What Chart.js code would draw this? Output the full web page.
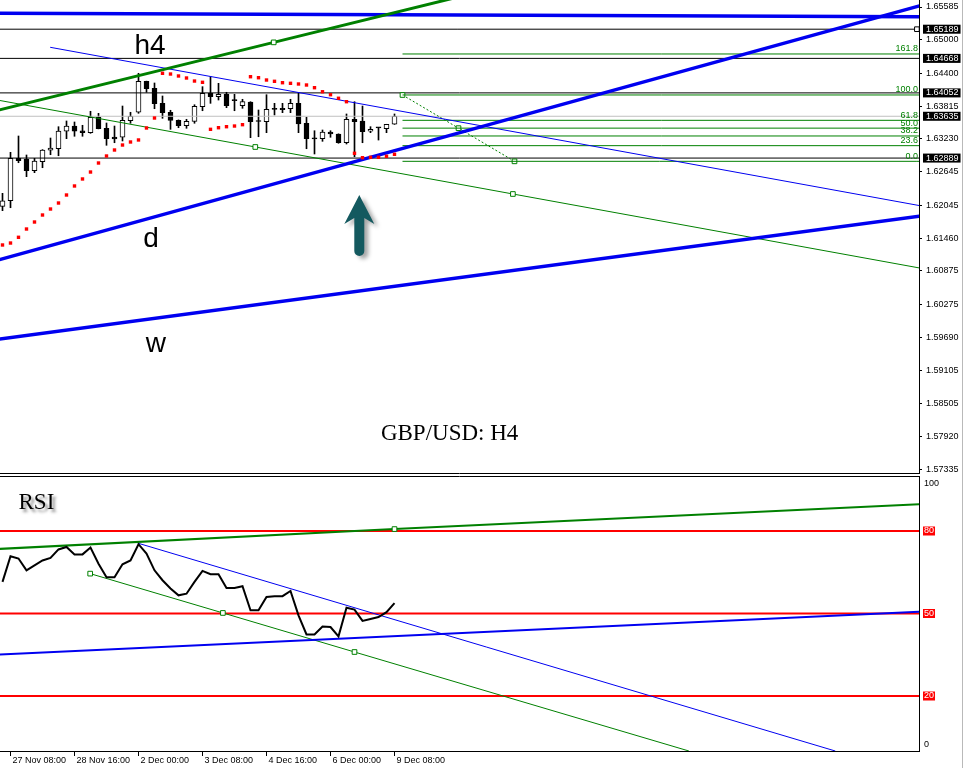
<!DOCTYPE html>
<html>
<head>
<meta charset="utf-8">
<title>GBP/USD H4</title>
<script src="https://cdn.jsdelivr.net/npm/chart.js@4.4.0/dist/chart.umd.min.js"></script>
<style>
  html, body { margin: 0; padding: 0; background: #fff; }
  #wrap { position: relative; width: 965px; height: 768px; overflow: hidden; }
  #priceChart { position: absolute; left: 0; top: 0; }
  #rsiChart { position: absolute; left: 0; top: 476px; }
  #edge { position: absolute; left: 962px; top: 0; width: 1px; height: 768px; background: #b9b9b9; }
</style>
</head>
<body>
<div id="wrap">
  <canvas id="priceChart" width="965" height="474"></canvas>
  <canvas id="rsiChart" width="965" height="292"></canvas>
  <div id="edge"></div>
</div>
<script>
/* ---------- datos: velas H4, índice 0 = 27 Nov 04:00 ---------- */
const opens = [1.62028, 1.62128, 1.62885, 1.62867, 1.62664, 1.62824, 1.63028, 1.63056, 1.63367, 1.63461,
  1.63377, 1.63342, 1.63617, 1.63420, 1.63265, 1.63260, 1.63556, 1.63706, 1.64259, 1.64134,
  1.63866, 1.63706, 1.63563, 1.63467, 1.63545, 1.63806, 1.64045, 1.63984, 1.64027, 1.63913,
  1.63824, 1.63890, 1.63545, 1.63538, 1.63759, 1.63777, 1.63770, 1.63866, 1.63510, 1.63235,
  1.63235, 1.63354, 1.63319, 1.63163, 1.63581, 1.63551, 1.63367, 1.63431, 1.63413, 1.63492];
const highs = [1.62260, 1.62992, 1.63283, 1.62944, 1.62885, 1.63040, 1.63247, 1.63449, 1.63551, 1.63533,
  1.63474, 1.63724, 1.63688, 1.63515, 1.63461, 1.63818, 1.63706, 1.64402, 1.64262, 1.64229,
  1.63997, 1.63742, 1.63570, 1.63581, 1.63841, 1.64163, 1.64341, 1.64223, 1.64063, 1.64027,
  1.63938, 1.63895, 1.63747, 1.64020, 1.63866, 1.63866, 1.63938, 1.64045, 1.63617, 1.63377,
  1.63390, 1.63377, 1.63322, 1.63676, 1.63895, 1.63818, 1.63449, 1.63435, 1.63492, 1.63676];
const lows = [1.61950, 1.62003, 1.62806, 1.62557, 1.62628, 1.62717, 1.62949, 1.62931, 1.63235, 1.63278,
  1.63278, 1.63331, 1.63410, 1.63117, 1.63163, 1.63194, 1.63510, 1.63688, 1.64063, 1.63770,
  1.63599, 1.63402, 1.63431, 1.63420, 1.63510, 1.63734, 1.63866, 1.63925, 1.63788, 1.63734,
  1.63777, 1.63253, 1.63270, 1.63342, 1.63658, 1.63699, 1.63699, 1.63342, 1.63056, 1.62962,
  1.63188, 1.63260, 1.63153, 1.63140, 1.62913, 1.63163, 1.63342, 1.63211, 1.63342, 1.63490];
const closes = [1.62128, 1.62885, 1.62842, 1.62664, 1.62837, 1.63033, 1.63069, 1.63372, 1.63461, 1.63367,
  1.63342, 1.63617, 1.63413, 1.63235, 1.63229, 1.63563, 1.63634, 1.64259, 1.64127, 1.63859,
  1.63699, 1.63563, 1.63467, 1.63545, 1.63813, 1.64045, 1.63984, 1.64027, 1.63824, 1.63913,
  1.63895, 1.63538, 1.63542, 1.63759, 1.63757, 1.63752, 1.63866, 1.63497, 1.63235, 1.63232,
  1.63354, 1.63319, 1.63163, 1.63581, 1.63538, 1.63360, 1.63402, 1.63428, 1.63492, 1.63635];
// Parabolic SAR
const sar = [1.61338, 1.61373, 1.61475, 1.61623, 1.61748, 1.61873, 1.61980, 1.62087, 1.62230, 1.62391,
  1.62516, 1.62640, 1.62801, 1.62926, 1.63033, 1.63122, 1.63176, 1.63212, 1.63426, 1.63604,
  1.64402, 1.64389, 1.64354, 1.64318, 1.64264, 1.64241, 1.63402, 1.63431, 1.63449, 1.63461,
  1.63485, 1.64341, 1.64323, 1.64282, 1.64259, 1.64234, 1.64223, 1.64211, 1.64193, 1.64145,
  1.64073, 1.64020, 1.63956, 1.63895, 1.62974, 1.62896, 1.62903, 1.62903, 1.62921, 1.62956];
// RSI
const rsi = [61.5, 70.8, 70.0, 65.7, 67.5, 69.3, 70.2, 73.3, 74.2, 71.5,
  71.5, 74.0, 68.1, 63.2, 63.2, 67.9, 69.3, 75.2, 71.8, 65.7,
  62.1, 59.1, 56.6, 57.2, 61.5, 65.5, 64.3, 64.3, 59.3, 59.3,
  59.9, 51.2, 51.2, 56.0, 56.3, 56.3, 58.2, 49.3, 42.4, 42.4,
  45.3, 45.1, 41.7, 52.1, 51.4, 47.3, 48.0, 48.7, 50.5, 53.8];

const timeTickBars = [1, 9, 17, 25, 33, 41, 49];
const timeLabels = ['27 Nov 08:00', '28 Nov 16:00', '2 Dec 00:00', '3 Dec 08:00', '4 Dec 16:00', '6 Dec 00:00', '9 Dec 08:00'];
const priceTicks = [1.65585, 1.65000, 1.64400, 1.63815, 1.63230, 1.62645, 1.62045, 1.61460,
  1.60875, 1.60275, 1.59690, 1.59105, 1.58505, 1.57920, 1.57335];
const markedPrices = [1.65189, 1.64668, 1.64052, 1.62889];
const bidPrice = 1.63635;
const rsiTicks = [0, 20, 50, 80, 100];
const rsiLevels = [20, 50, 80];

// Fibonacci
const fibRatios = [0, 23.6, 38.2, 50, 61.8, 100, 161.8];
const fibHigh = 1.64015, fibLow = 1.62831;
const fibStartBar = 50, fibTrendBars = [50, 57, 64];

// líneas de tendencia [barra, precio]
const topBlueLine = [[-1, 1.65473], [116, 1.65411]];
const dailyLine = [[-1, 1.61052], [116, 1.65660]];
const weeklyLine = [[-1, 1.59648], [116, 1.61880]];
const channelTop = [[5.96, 1.64866], [116, 1.62005]];
const channelLow = [[-1, 1.63934], [31.6, 1.63087], [63.8, 1.62248], [116, 1.60892]];
const greenTrend = [[-1, 1.63728], [33.9, 1.64954], [57.2, 1.65772]];
// líneas en el RSI [barra, valor]
const rsiUpperLine = [[-1, 73.4], [49, 80.7], [116, 89.9]];
const rsiBaseLine = [[-1, 35.0], [116, 50.8]];
const rsiFallBlue = [[16.9, 75.6], [104.1, 0]];
const rsiFallGreen = [[10.96, 64.5], [27.55, 50.2], [44, 36.0], [85.8, 0]];

// textos del gráfico [texto, barra, valor]
const priceNotes = [['h4', 16.5, 1.64743], ['d', 17.6, 1.61302], ['w', 17.9, 1.59428]];
const titleNote = ['GBP/USD: H4', 47.3, 1.57858];
const rsiNote = ['RSI', 2.0, 87.9];
const arrowTip = [44.6, 1.62230], arrowTail = [44.6, 1.61141];

/* ---------- escalas y estilos ---------- */
const xMin = -0.3125, xMax = 114.5625;
const priceMin = 1.57251, priceMax = 1.65710;
const SANS = "'Liberation Sans', Arial, sans-serif";
const SERIF = "'Liberation Serif', 'Times New Roman', serif";
const BLUE = '#0000f0', GREEN = '#008000', RED = '#ff0000';
const tickFont = { family: SANS, size: 9, lineHeight: 1 };
const fibLevel = r => fibLow + (fibHigh - fibLow) * r / 100;

function lineSet(pts, color, width, marks, order, dash) {
  return {
    type: 'line',
    data: pts.map(p => ({ x: p[0], y: p[1] })),
    borderColor: color,
    borderWidth: width,
    borderDash: dash || [],
    pointStyle: 'rect',
    pointRadius: pts.map((_, i) => (marks || []).includes(i) ? 3.3 : 0),
    pointBackgroundColor: '#fff',
    pointBorderColor: color,
    pointBorderWidth: 1,
    fill: false,
    tension: 0,
    order: order
  };
}
const flat = (a, b, v) => [[a, v], [b, v]];

const bars = closes.map((_, i) => i);
const candleColor = bars.map(i => closes[i] > opens[i] ? '#fff' : '#000');

/* ---------- plugins ---------- */
const framePlugin = {
  id: 'frame',
  afterDraw(chart, args, opts) {
    const { ctx, chartArea } = chart;
    const y = opts.edge === 'bottom' ? chartArea.bottom - 0.5 : chartArea.top + 0.5;
    ctx.save();
    ctx.strokeStyle = '#000';
    ctx.lineWidth = 1;
    ctx.beginPath();
    ctx.moveTo(0, y);
    ctx.lineTo(chartArea.right, y);
    ctx.stroke();
    ctx.restore();
  }
};

const priceDecor = {
  id: 'priceDecor',
  afterDatasetsDraw(chart) {
    const { ctx, chartArea, scales: { x, y } } = chart;
    ctx.save();
    // etiquetas Fibonacci
    ctx.font = '9px ' + SANS;
    ctx.fillStyle = GREEN;
    ctx.textAlign = 'right';
    ctx.textBaseline = 'alphabetic';
    fibRatios.forEach(r => {
      ctx.fillText(r.toFixed(1), chartArea.right - 1, y.getPixelForValue(fibLevel(r)) - 2.5);
    });
    // textos h4 / d / w
    ctx.textAlign = 'left';
    ctx.fillStyle = '#000';
    ctx.font = '28px ' + SANS;
    priceNotes.forEach(([t, b, p]) => ctx.fillText(t, x.getPixelForValue(b), y.getPixelForValue(p)));
    ctx.font = '23px ' + SERIF;
    ctx.fillText(titleNote[0], x.getPixelForValue(titleNote[1]), y.getPixelForValue(titleNote[2]));
    // flecha
    const tx = x.getPixelForValue(arrowTip[0]);
    const ty = y.getPixelForValue(arrowTip[1]);
    const by = y.getPixelForValue(arrowTail[1]);
    ctx.shadowColor = 'rgba(0,0,0,0.35)';
    ctx.shadowBlur = 4;
    ctx.shadowOffsetX = 4;
    ctx.shadowOffsetY = 3;
    ctx.fillStyle = '#14595f';
    ctx.beginPath();
    ctx.moveTo(tx, ty);
    ctx.lineTo(tx + 15, ty + 29);
    ctx.lineTo(tx + 5, ty + 23);
    ctx.lineTo(tx + 5, by - 5);
    ctx.arc(tx, by - 5, 5, 0, Math.PI);
    ctx.lineTo(tx - 5, ty + 23);
    ctx.lineTo(tx - 15, ty + 29);
    ctx.closePath();
    ctx.fill();
    ctx.restore();
  }
};

const rsiDecor = {
  id: 'rsiDecor',
  afterDatasetsDraw(chart) {
    const { ctx, scales: { x, y } } = chart;
    ctx.save();
    ctx.font = '23px ' + SERIF;
    ctx.fillStyle = '#000';
    ctx.shadowColor = 'rgba(0,0,0,0.45)';
    ctx.shadowBlur = 3;
    ctx.shadowOffsetX = 3;
    ctx.shadowOffsetY = 3;
    ctx.fillText(rsiNote[0], x.getPixelForValue(rsiNote[1]), y.getPixelForValue(rsiNote[2]));
    ctx.restore();
  }
};

/* ---------- gráfico de precio ---------- */
const allPriceTicks = priceTicks.concat(markedPrices, [bidPrice]).sort((a, b) => a - b);
const isMarked = v => markedPrices.includes(v) || v === bidPrice;

const priceDatasets = [
  {
    type: 'bar', data: bars.map(i => ({ x: i, y: [lows[i], highs[i]] })),
    backgroundColor: '#000', borderWidth: 0, barThickness: 1, minBarLength: 1, grouped: false, order: 9
  },
  {
    type: 'bar', data: bars.map(i => ({ x: i, y: [opens[i], closes[i]] })),
    backgroundColor: candleColor, borderColor: '#000', borderWidth: 1, borderSkipped: false,
    barThickness: 5, minBarLength: 1, grouped: false, order: 8
  },
  lineSet(flat(-1, 116, bidPrice), '#c0c0c0', 1, [], 7),
  lineSet([[-1, markedPrices[0]], [114.3, markedPrices[0]], [116, markedPrices[0]]], '#000', 1, [1], 7),
  ...markedPrices.slice(1).map(v => lineSet(flat(-1, 116, v), '#000', 1, [], 7)),
  ...fibRatios.map(r => lineSet(
    r === 0 ? [[fibStartBar, fibLevel(r)], [114.3, fibLevel(r)], [116, fibLevel(r)]] : flat(fibStartBar, 116, fibLevel(r)),
    GREEN, 1, [], 6)),
  lineSet(fibTrendBars.map((b, i) => [b, fibLevel([100, 50, 0][i])]), GREEN, 1, [0, 1, 2], 6, [2, 2]),
  lineSet(channelLow, GREEN, 1, [1, 2], 4),
  lineSet(channelTop, BLUE, 1, [], 4),
  lineSet(greenTrend, GREEN, 3, [1], 3),
  lineSet(topBlueLine, BLUE, 3.5, [], 3),
  lineSet(dailyLine, BLUE, 3.5, [], 3),
  lineSet(weeklyLine, BLUE, 3.5, [], 3),
  {
    type: 'line', data: bars.map(i => ({ x: i, y: sar[i] })), showLine: false,
    pointStyle: 'rect', pointRadius: 2.4, pointBackgroundColor: RED, pointBorderWidth: 0, order: 0
  }
];
// marca del nivel 0.0 en negro
priceDatasets.forEach(d => { if (d.data.length === 3 && d.data[1].x === 114.3) d.pointBorderColor = '#000'; });

new Chart(document.getElementById('priceChart'), {
  type: 'line',
  data: { datasets: priceDatasets },
  options: {
    responsive: false,
    animation: false,
    events: [],
    devicePixelRatio: 1,
    layout: { padding: 0, autoPadding: false },
    plugins: { legend: { display: false }, tooltip: { enabled: false }, frame: { edge: 'bottom' } },
    scales: {
      x: { type: 'linear', display: false, min: xMin, max: xMax, offset: false, grid: { offset: false } },
      y: {
        type: 'linear', position: 'right', min: priceMin, max: priceMax, beginAtZero: false,
        afterBuildTicks: s => { s.ticks = allPriceTicks.map(v => ({ value: v })); },
        afterFit: s => { s.width = 46; s.paddingTop = 0; s.paddingBottom = 0; },
        ticks: {
          autoSkip: false, padding: 4, font: tickFont,
          callback: v => v.toFixed(5),
          color: c => isMarked(c.tick.value) ? '#fff' : '#000',
          showLabelBackdrop: true,
          backdropColor: c => isMarked(c.tick.value) ? '#000' : 'rgba(0,0,0,0)',
          backdropPadding: { left: 3, right: 2, top: 0, bottom: 0 }
        },
        grid: { drawOnChartArea: false, tickLength: 3, tickColor: c => isMarked(c.tick.value) ? 'rgba(0,0,0,0)' : '#000' },
        border: { display: true, color: '#000', width: 1 }
      }
    }
  },
  plugins: [framePlugin, priceDecor]
});

/* ---------- gráfico RSI ---------- */
// 0 y 100 se escriben dentro del panel, como en la plataforma
const rsiTickSpots = rsiTicks.map(v => v === 0 ? 2.4 : v === 100 ? 97.4 : v);

new Chart(document.getElementById('rsiChart'), {
  type: 'line',
  data: {
    datasets: [
      ...rsiLevels.map(v => lineSet(flat(-1, 116, v), RED, 2, [], 8)),
      lineSet(rsiUpperLine, GREEN, 2, [1], 5),
      lineSet(rsiBaseLine, BLUE, 2, [], 5),
      lineSet(rsiFallBlue, BLUE, 1, [], 5),
      lineSet(rsiFallGreen, GREEN, 1, [0, 1, 2], 5),
      {
        type: 'line', data: bars.map(i => ({ x: i, y: rsi[i] })),
        borderColor: '#000', borderWidth: 2, pointRadius: 0, tension: 0, fill: false, order: 1
      }
    ]
  },
  options: {
    responsive: false,
    animation: false,
    events: [],
    devicePixelRatio: 1,
    layout: { padding: 0, autoPadding: false },
    plugins: { legend: { display: false }, tooltip: { enabled: false }, frame: { edge: 'top' } },
    scales: {
      x: {
        type: 'linear', min: xMin, max: xMax, offset: false,
        afterBuildTicks: s => { s.ticks = timeTickBars.map(v => ({ value: v })); },
        afterFit: s => { s.height = 17; s.paddingLeft = 0; s.paddingRight = 0; },
        ticks: {
          autoSkip: false, maxRotation: 0, minRotation: 0, align: 'start', padding: 0, labelOffset: 2,
          font: tickFont, color: '#000', callback: (v, i) => timeLabels[i]
        },
        grid: { drawOnChartArea: false, tickLength: 5, color: '#000', offset: false },
        border: { display: true, color: '#000', width: 1 }
      },
      y: {
        type: 'linear', position: 'right', min: 0, max: 100,
        afterBuildTicks: s => { s.ticks = rsiTickSpots.map(v => ({ value: v })); },
        afterFit: s => { s.width = 46; s.paddingTop = 0; s.paddingBottom = 0; },
        ticks: {
          autoSkip: false, padding: 2, font: tickFont,
          callback: (v, i) => String(rsiTicks[i]),
          color: c => rsiLevels.includes(c.tick.value) ? '#fff' : '#000',
          showLabelBackdrop: true,
          backdropColor: c => rsiLevels.includes(c.tick.value) ? RED : 'rgba(0,0,0,0)',
          backdropPadding: { left: 1, right: 1, top: 0, bottom: 0 }
        },
        grid: { drawOnChartArea: false, tickLength: 3, tickColor: 'rgba(0,0,0,0)' },
        border: { display: true, color: '#000', width: 1 }
      }
    }
  },
  plugins: [framePlugin, rsiDecor]
});
</script>
</body>
</html>
